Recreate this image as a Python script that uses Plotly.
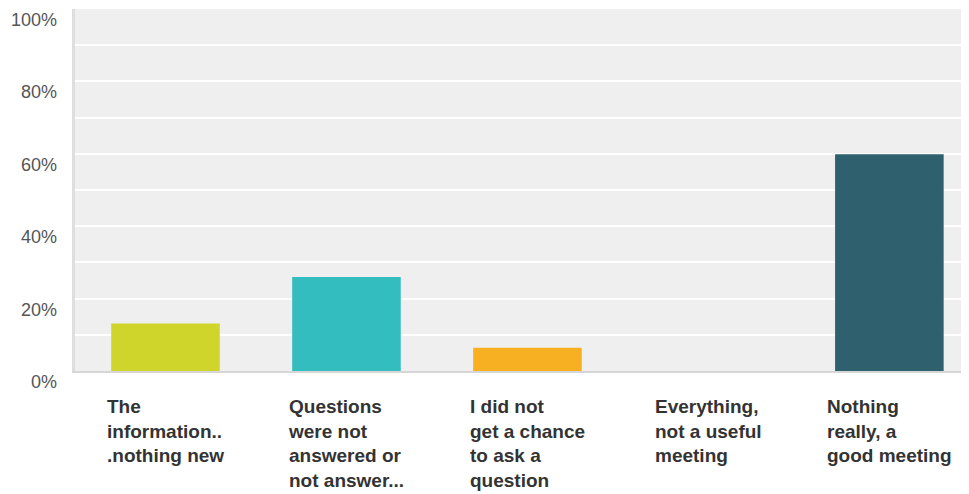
import plotly.graph_objects as go

categories = ["The information...nothing new", "Questions were not answered or not answer...",
              "I did not get a chance to ask a question", "Everything, not a useful meeting",
              "Nothing really, a good meeting"]
label_lines = [
    "The<br>information..<br>.nothing new",
    "Questions<br>were not<br>answered or<br>not answer...",
    "I did not<br>get a chance<br>to ask a<br>question",
    "Everything,<br>not a useful<br>meeting",
    "Nothing<br>really, a<br>good meeting",
]
values = [13.1, 26.0, 6.4, 0, 59.9]
colors = ["#cfd52a", "#34bdbf", "#f6b021", "#8b8b8b", "#2e606e"]
ytick_vals = [0, 20, 40, 60, 80, 100]
ytick_text = ["0%", "20%", "40%", "60%", "80%", "100%"]

fig = go.Figure()
fig.add_trace(go.Bar(x=list(range(len(categories))), y=values, marker=dict(color=colors, line=dict(width=0)),
                     hoverinfo="skip"))

annotations = []
for v, t in zip(ytick_vals, ytick_text):
    annotations.append(dict(x=0, xref="paper", y=v, yref="y", text=t, showarrow=False,
                            xanchor="right", yanchor="middle", xshift=-16, yshift=-11,
                            font=dict(family="Liberation Sans, Arial", size=18, color="#555555")))
for i, t in enumerate(label_lines):
    annotations.append(dict(x=i, xref="x", y=0, yref="paper", text="<b>" + t + "</b>", showarrow=False,
                            xanchor="center", yanchor="top", align="left", yshift=-23,
                            font=dict(family="Liberation Sans, Arial", size=19, color="#333333")))

fig.update_layout(
    width=961, height=486,
    margin=dict(l=67, r=0, t=1, b=123),
    paper_bgcolor="white", plot_bgcolor="#efefef",
    bargap=0.4, showlegend=False,
    annotations=annotations,
    xaxis=dict(range=[-0.5, 4.44], showticklabels=False, showgrid=False, zeroline=False,
               showline=True, linecolor="#d6d6d6", linewidth=2, ticks=""),
    yaxis=dict(range=[0, 100], tickvals=list(range(0, 101, 10)), showticklabels=False,
               showgrid=True, gridcolor="white", gridwidth=2, zeroline=False,
               showline=True, linecolor="#dedede", linewidth=3, ticks=""),
)
fig.write_html("out.html")
